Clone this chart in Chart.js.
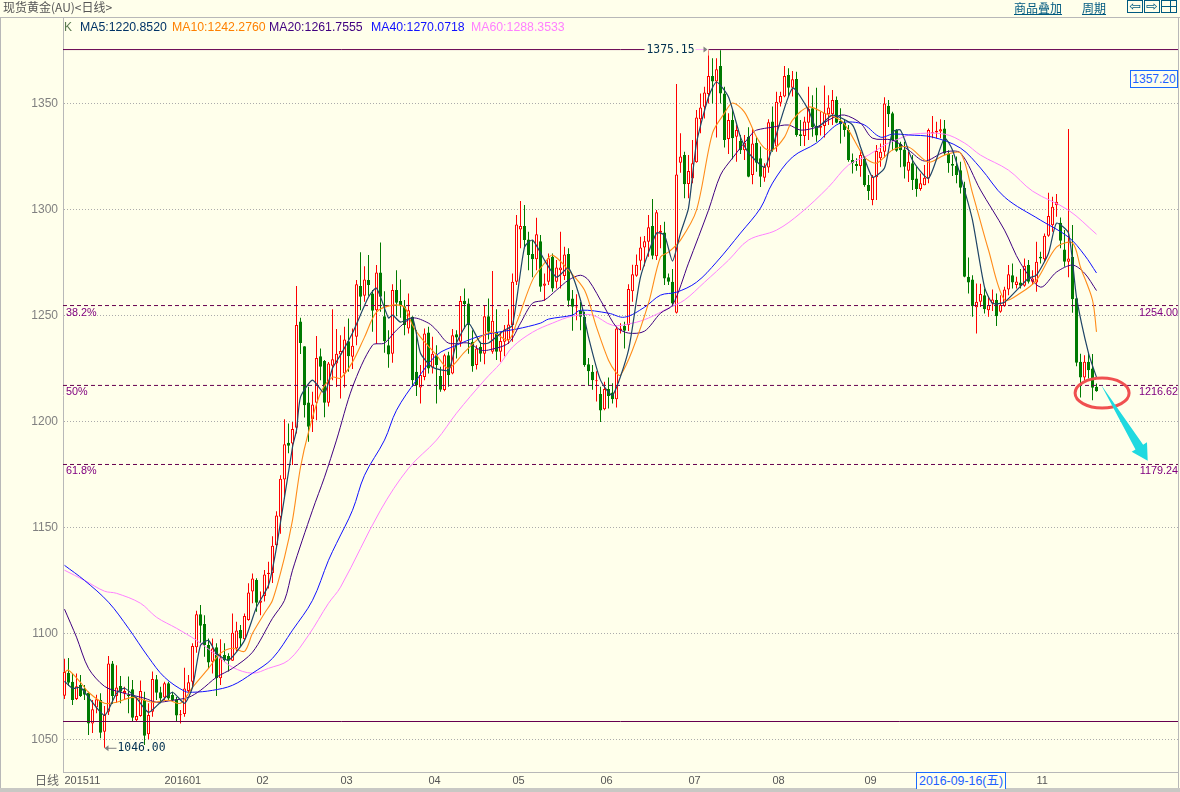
<!DOCTYPE html>
<html><head><meta charset="utf-8">
<script src="https://cdn.jsdelivr.net/npm/chart.js@4/dist/chart.umd.min.js"></script>
<style>
html,body{margin:0;padding:0;background:#FFFFEB;width:1180px;height:792px;overflow:hidden}
#wrap{position:relative;width:1180px;height:792px;font-family:"Liberation Sans",sans-serif}
canvas{position:absolute;left:0;top:0}
.t{position:absolute;white-space:nowrap;line-height:14px;font-size:12px}
.leg{font-size:12.3px}
.r{position:absolute;background:#B8B8B8}
.btn{position:absolute;top:0;width:14px;height:11px;border:1px solid #005A80;color:#005A80;font:14px/10px "DejaVu Sans";text-align:center;overflow:hidden}
</style></head><body><div id="wrap">
<canvas id="c" width="1180" height="792"></canvas>
<div class="r" style="left:0;top:17px;width:1180px;height:1px"></div>
<div class="r" style="left:0;top:18px;width:1px;height:770px"></div>
<div class="r" style="left:1178px;top:17px;width:1px;height:771px"></div>
<div class="r" style="left:0;top:788px;width:1180px;height:4px;background:#C8C8C4"></div>
<div class="t" style="left:3px;top:0;color:#555;font-family:'Noto Sans CJK SC';font-size:12px;line-height:14px">现货黄金(AU)&lt;日线&gt;</div>
<div class="t" style="left:64px;top:20px;color:#5a7a50">K</div>
<div class="t leg" style="left:80px;top:20px;color:#003366">MA5:1220.8520</div>
<div class="t leg" style="left:172px;top:20px;color:#FF8000">MA10:1242.2760</div>
<div class="t leg" style="left:269px;top:20px;color:#400080">MA20:1261.7555</div>
<div class="t leg" style="left:371px;top:20px;color:#1010FF">MA40:1270.0718</div>
<div class="t leg" style="left:471px;top:20px;color:#FF80FF">MA60:1288.3533</div>
<div class="t" style="left:1014px;top:1px;color:#005A80;text-decoration:underline;font-family:'Noto Sans CJK SC'">商品叠加</div>
<div class="t" style="left:1082px;top:1px;color:#005A80;text-decoration:underline;font-family:'Noto Sans CJK SC'">周期</div>
<div class="btn" style="left:1127px">⇦</div>
<div class="btn" style="left:1144px">⇨</div>
<div class="btn" style="left:1161px"><div style="position:absolute;left:8px;top:0;width:1px;height:11px;background:#005A80"></div><div style="position:absolute;left:0;top:5px;width:14px;height:1px;background:#005A80"></div></div>
<div class="t" style="left:1130px;top:70px;width:46px;height:16px;line-height:16px;border:1px solid #1A6AFF;color:#2060FF;text-align:center;background:#FFFFEB">1357.20</div>
<div class="t" style="left:35px;top:773px;color:#666;font-family:'Noto Sans CJK SC'">日线</div>
<div class="t" style="left:916px;top:772px;width:88px;height:16px;line-height:16px;border:1px solid #1A6AFF;border-bottom:0;color:#2060FF;text-align:center;background:#FFFFEB;font-size:12.4px;font-family:'Liberation Sans','Noto Sans CJK SC'">2016-09-16(五)</div>
</div>
<script>
// Daily candles (one group per 10 sessions)
const opens=[
1070.5,1081.4,1077.2,1069,1075.6,1074,1072,1057.5,1065,1068.6,
1053.6,1063,1085.8,1070.4,1075.2,1071.7,1070.9,1073.6,1059,1061,
1068.6,1052.4,1063,1078.3,1072.2,1069.7,1076.4,1070.9,1068.9,1061.3,
1062,1072.8,1077.2,1093.4,1109,1104.4,1094.5,1086.6,1093.4,1078.8,
1089.8,1089.3,1087.1,1092.9,1101.6,1097.2,1106.3,1119.7,1125.2,1114.5,
1117.6,1128,1128.5,1141.6,1155,1172.6,1190,1189.6,1197,1247.2,
1235.5,1209,1201.2,1208.8,1230.8,1228.5,1208.8,1226.3,1227.4,1231.6,
1222.6,1237.9,1230.5,1240,1263.9,1259.3,1266.7,1260.4,1252.5,1270.3,
1249.7,1236,1232,1262,1256.8,1254.4,1243.9,1249.4,1223.4,1216,
1221,1242,1225.5,1231.3,1221.4,1214.8,1231.3,1222.6,1241.2,1237.6,
1257,1255.7,1237.6,1226.6,1235.2,1232,1249.7,1232.9,1242.3,1232.9,
1237.6,1238.4,1245.5,1265.9,1290.6,1292.2,1285.9,1279,1276.6,1285.1,
1264,1265.9,1277.7,1265.9,1271.4,1268.6,1279,1258,1253.8,1252.2,
1249.4,1227,1223.4,1219,1212.9,1205.8,1215.3,1213.7,1210.5,1243,
1245,1245.5,1261.5,1268.8,1275.8,1282.1,1284.8,1292.2,1278,1289,
1289.2,1268,1265.9,1251.3,1322.1,1325.7,1312.1,1314.7,1322.3,1342.6,
1348.5,1354.5,1363,1360.4,1367.7,1354.8,1333.3,1342.3,1334.4,1332.3,
1328,1334.4,1316.3,1331.5,1324.2,1315,1319.9,1341.5,1329.7,1350.4,
1353.3,1363.5,1357.5,1361.6,1335.5,1334.7,1341,1347.8,1339.4,1338.6,
1339.4,1345,1345,1351.7,1341.8,1341,1337.6,1323.4,1321.5,1320.5,
1323.8,1311.6,1304.5,1315.2,1324.2,1327.3,1349,1345.4,1337.6,1331,
1328.4,1318.3,1321.8,1314.7,1309.7,1311.5,1314.7,1336,1336.4,1336.8,
1338.3,1326.5,1321.5,1320.5,1318.6,1310.3,1268.3,1267,1253.9,1256.5,
1259.6,1252.5,1255.7,1257.3,1251.8,1254.4,1262.3,1269,1264.4,1265.6,
1264,1273.8,1265.9,1265.6,1277.7,1276.5,1287.6,1292.6,1302,1293.8,
1281.2,1275.4,1277.7,1258.2,1228.2,1220.8,1228.2,1225,1216.4];
const highs=[
1088,1088.4,1081,1081,1080.3,1075.6,1072.5,1068.6,1071,1071.7,
1065.7,1089.3,1087,1085,1079.9,1074.8,1079.6,1078,1070,1077.7,
1072.5,1067,1082,1080.3,1074.8,1077.2,1077.2,1072.5,1070,1063.8,
1083.8,1080.3,1095.3,1110.7,1113.4,1108.6,1097.6,1097.6,1095.3,1097.2,
1095.3,1090.6,1109.4,1105.5,1103.9,1109.4,1123.6,1128.3,1126,1119.7,
1129.9,1133.8,1145.8,1157.6,1174.6,1201,1199,1199.8,1263.9,1249,
1235.5,1216.4,1214,1240.3,1234.4,1229,1228,1253,1243.6,1240.7,
1244.7,1248.6,1243.9,1266.7,1279.8,1273.3,1278.5,1262,1273.8,1284.5,
1261.5,1243,1264.7,1271.4,1267,1257.3,1260.4,1249.7,1243,1226.6,
1243.9,1244.7,1240,1236,1225.8,1232,1232.9,1243.6,1243,1259.2,
1262.8,1258,1243,1236,1237.6,1254.9,1258,1271,1252.9,1242.3,
1245.5,1252.9,1269.8,1297.4,1304,1302.1,1289.5,1285.6,1296.1,1288,
1269.8,1279.3,1279.3,1276.2,1289.5,1282.5,1281.7,1262,1260,1256.5,
1251.8,1230,1226.6,1223.7,1216.4,1218.7,1220.8,1218,1244.7,1246.3,
1247,1264.7,1274,1278.8,1287.2,1287.5,1297.4,1305,1299.8,1292.7,
1294.2,1269.8,1272,1359.3,1336,1327.3,1325.7,1332.8,1347,1354.8,
1358,1375.15,1371.4,1371.4,1375.15,1358,1345.4,1347,1339.9,1335.2,
1335.2,1338.8,1338.3,1334.4,1329.7,1321.8,1342.6,1348.6,1355.6,1355.6,
1367.7,1366.7,1365.4,1365,1342.3,1343.8,1358,1354,1357.5,1346.2,
1358.5,1354,1356.4,1353.3,1347.8,1342.3,1339.9,1326.5,1324.2,1328,
1325,1316.3,1316.3,1330.5,1331.2,1353,1351.7,1346.2,1337.9,1332,
1332,1327.3,1325.7,1320.2,1317,1321,1338.3,1344.1,1341.4,1342.6,
1342.3,1328,1325.7,1325,1322.6,1313.1,1277.4,1269,1265.1,1265,
1262.8,1258.8,1262.3,1260.4,1259.6,1263.6,1273.8,1274.6,1268.3,1272,
1276.9,1276.2,1271.4,1284.8,1280.1,1288.7,1307.9,1306,1307.3,1296.3,
1290.3,1338,1292.7,1258.5,1232,1231.3,1232,1231.8,1217.9];
const lows=[
1069,1075.2,1066.2,1068.5,1070,1068.6,1052,1053,1062.3,1050.5,
1046,1061.5,1066.7,1067.3,1067,1068.6,1062.3,1058.6,1058.3,1060.7,
1047.3,1050,1060.7,1068.6,1067,1068.6,1068.6,1067.8,1058.6,1057.5,
1060.7,1071.7,1074.8,1090.9,1095.3,1089,1083.2,1081,1070.4,1075.6,
1086.6,1082,1087,1091.4,1093.7,1096.9,1106,1114.2,1110.2,1108.6,
1115,1121.2,1123.8,1140.8,1147,1163.6,1185,1179.4,1194.3,1231.8,
1201.9,1190.4,1195,1200.6,1219.5,1202,1207,1219.5,1216.3,1210.8,
1216,1223.4,1224.7,1236,1252.5,1256.5,1259.3,1242.3,1236.5,1251.8,
1232.4,1225.3,1227.7,1249.7,1249,1240.7,1241.5,1216.4,1212,1208.5,
1219.5,1222.6,1222.6,1208.5,1214,1214.3,1216.4,1222.3,1229.7,1235.2,
1243.9,1232,1223.4,1224.5,1228.2,1227,1238.7,1232,1229,1228.2,
1230.8,1236.6,1237.6,1264.4,1281.7,1281.7,1271.4,1268,1271.4,1261.2,
1257,1264.4,1261.2,1262.8,1262.8,1266.7,1254.1,1242.8,1247.8,1243.1,
1225.8,1217.1,1215,1209.4,1199.7,1205.3,1206.1,1208.5,1206.6,1241.5,
1234.4,1242.7,1256.5,1268.3,1271.4,1273.3,1277.7,1276.6,1276.2,1281.7,
1264.4,1264.4,1254.1,1251,1317.4,1305.3,1305.3,1312.4,1322.1,1336,
1343,1350,1350,1334,1350,1329.3,1326.2,1323.7,1322.6,1326.2,
1323.4,1315.2,1312,1317.9,1310.7,1313.1,1317.4,1327.3,1327.3,1348.6,
1353,1353.3,1353.3,1334.4,1330,1330,1332.8,1334.4,1332,1334.9,
1334,1339.9,1339.9,1340.7,1331.2,1334.4,1322.6,1317,1318.3,1315.5,
1310.8,1304.5,1302,1304.5,1320.2,1324.6,1339,1328,1327.3,1320,
1314.7,1313,1309.2,1306.1,1308.9,1311.5,1312.4,1333.6,1333.6,1333.6,
1325.7,1317.4,1315.8,1312.4,1307.6,1268,1260.4,1249.4,1241.5,1254,
1251,1249.4,1252.1,1245,1251.3,1254.1,1259.6,1262.8,1262.8,1262.8,
1263.6,1265.1,1264.4,1261.2,1274.6,1275.4,1287.2,1289.5,1296.6,1281.7,
1273,1268,1251.3,1226,1211.3,1219.5,1220.3,1210,1214];
const closes=[
1081.8,1076.7,1068.6,1075,1070.4,1071,1057.5,1064.2,1068.9,1053.1,
1061.5,1085.8,1070.4,1074.5,1072.5,1072.8,1070.4,1060.2,1061,1072.8,
1051.7,1061.5,1078.5,1072,1069.3,1076.4,1069.3,1068.6,1061.2,1061.7,
1074,1076.9,1094,1109,1103.6,1094.5,1086.2,1092.9,1078.8,1088.2,
1087.4,1087.1,1100.3,1101.3,1097.6,1108.2,1119.3,1125.9,1114.5,1115.5,
1127.8,1128.6,1141.4,1155.6,1173,1189.3,1188.5,1196.4,1245.5,1237,
1207.7,1197.5,1208,1230,1225.8,1208.8,1227.4,1229.3,1232,1233.2,
1238.7,1230.8,1235.7,1264.7,1258.8,1267,1264.4,1252.2,1270.3,1258.8,
1237.9,1231.6,1262,1256,1254.9,1245.5,1252.5,1219.5,1217.1,1221.9,
1241.5,1225,1232,1226.6,1215,1231.3,1221.9,1240.7,1239.6,1256.8,
1255.4,1245.5,1226,1234.4,1232,1249.7,1242.3,1247.5,1232.9,1238,
1243.4,1245.8,1265.9,1293,1292.2,1285.6,1278.5,1276.6,1288.4,1263.6,
1265.1,1277,1262.8,1272.7,1272.7,1278.8,1257,1254.1,1254.1,1249.4,
1226.6,1223.7,1219.5,1219.5,1205.2,1215.3,1212,1210.5,1243.9,1243.9,
1242.8,1262.5,1269.5,1274,1282.1,1285.1,1291.6,1278.2,1298.7,1290,
1267.5,1265.9,1255.7,1316.6,1325,1311.9,1318.2,1321.8,1343.5,1348.2,
1355.3,1363,1360.4,1366.2,1354.8,1332.8,1342.3,1333.6,1337.6,1328,
1331.5,1315.5,1331.2,1322.1,1315.5,1320.2,1341.2,1328,1350.9,1353.6,
1363,1357.5,1361.5,1335.2,1334.7,1341.5,1347.4,1339,1334.9,1339.4,
1345.7,1348.2,1351.7,1341,1340.2,1337.6,1323.4,1321.8,1320.5,1325.7,
1311.6,1308.7,1315.5,1327.6,1327.3,1350,1345,1332.8,1327.8,1328,
1320.2,1322.6,1313.9,1309.7,1312.4,1315,1337.6,1336.4,1337.2,1337.9,
1326.5,1321.8,1320.7,1316.3,1310.3,1268.3,1265.6,1254.4,1256.5,1260.1,
1252.9,1254.9,1257.6,1249.7,1254.9,1262.3,1269.5,1265.6,1266,1264,
1273.5,1265.9,1267.5,1275.4,1276.9,1287.6,1297,1301.3,1303.7,1285.3,
1275.4,1276.9,1257.7,1227.7,1220.8,1228.2,1224.2,1215.9,1214.3];

// Moving averages at session numbers
const ma5Idx=[0,2,4,6,10,13,15,18,21,24,27,30,32,34,36,38,41,45,48,51,53,57,58,59,62,65,67,69,72,76,78,81,82,84,87,89,92,96,98,101,104,106,110,112,115,117,120,123,126,129,131,134,137,141,144,148,150,152,154,156,158,161,163,166,169,171,175,177,182,186,188,192,197,199,202,205,207,209,212,216,220,222,225,227,230,232,235,241,243,246,248,251,253,256,258];
const ma5=[1077.4,1074.1,1074.5,1069.8,1061.3,1071.7,1074.1,1069.4,1062.7,1067.5,1072.2,1067,1074.5,1094.4,1096.7,1090.6,1087.3,1096.7,1112.3,1122.7,1140.6,1187.9,1195.9,1211.5,1219.5,1213.3,1225.1,1231.3,1241.7,1258.7,1262.9,1248.8,1250.2,1246.9,1248.8,1232.2,1225.6,1224.2,1237,1246.4,1237,1237,1243.1,1245.4,1282.3,1285.6,1276.1,1268.1,1272.4,1257.3,1239.8,1219.5,1212.4,1233.7,1268.1,1288.9,1287.9,1275.7,1288.9,1300.7,1331.4,1353.1,1360.2,1353.1,1334.2,1326.7,1320,1329.5,1357.3,1347,1338.5,1344.6,1339.9,1329.5,1315.3,1319.6,1336.6,1337.5,1323.3,1314.8,1333.7,1328.1,1309.2,1295,1263.4,1255.8,1256.3,1267.6,1269,1279.4,1293.6,1288.9,1258.7,1232.2,1220.85];
const ma10Idx=[0,1,4,6,10,13,17,22,26,29,32,36,39,42,45,47,50,52,55,57,59,61,64,67,69,72,75,78,82,85,87,89,93,96,100,104,107,111,113,117,120,122,126,130,133,136,138,139,142,146,149,151,154,158,162,165,167,170,173,175,177,180,182,186,190,194,196,200,203,207,211,216,220,224,227,231,235,239,243,248,252,254,257,258];
const ma10=[1081.6,1082.6,1076.9,1072.2,1067,1067.5,1069.8,1067.5,1068.4,1067,1074.5,1083.5,1090.6,1093,1091.5,1100,1109.5,1115.6,1135.9,1153.4,1178.4,1194.9,1213.3,1220.9,1220.4,1228,1239.8,1251.6,1254.9,1253.9,1245.4,1239.8,1231.3,1225.1,1232.7,1239.8,1242.1,1238.4,1246.4,1266.7,1274.7,1278.5,1271.4,1262,1244.5,1228.9,1222.8,1221.8,1233.7,1255.8,1277.6,1279.9,1285.6,1299.7,1336.1,1345.5,1350.3,1346,1334.2,1329,1328.1,1334.2,1342.2,1348.4,1345.5,1342.2,1337.5,1324.8,1321.9,1328.1,1329.5,1322.4,1325.7,1326.7,1307.8,1280.9,1257.3,1260.6,1266.7,1282.3,1284.2,1272.8,1257.3,1242.28];
const ma20Idx=[0,3,6,10,14,20,23,27,31,34,38,42,47,52,55,57,62,65,68,72,77,80,83,87,91,93,96,101,104,106,111,114,117,120,123,126,129,131,135,138,141,145,149,152,156,161,164,167,172,173,177,181,184,188,192,195,199,202,207,211,215,220,224,229,235,239,244,248,252,255,258];
const ma20=[1111.4,1098.2,1083.5,1075,1072.2,1069.4,1067.5,1068.4,1069.8,1073.1,1079.3,1083.5,1091.1,1107.1,1115.6,1129.8,1158.1,1173.7,1191.2,1216.2,1236,1237,1243.1,1248.8,1246.4,1243.1,1237,1237,1233.7,1233.7,1237,1246.4,1255.8,1257.3,1262,1266.7,1269,1266.7,1253.9,1244.5,1241.7,1242.6,1251.1,1254.9,1274.7,1299.7,1316.3,1324.3,1336.1,1337.5,1338.9,1339.9,1337.5,1338.9,1343.2,1344.6,1340.8,1333.7,1332.8,1328.1,1322.9,1327.1,1326.7,1309.2,1290.3,1274.7,1263.4,1270.5,1273.8,1270,1261.76];
const ma40Idx=[0,5,11,16,21,25,30,32,37,42,47,52,57,62,66,68,72,75,80,83,88,93,98,103,107,113,119,121,127,129,136,140,145,149,153,158,163,169,174,177,182,188,192,194,197,200,204,207,211,217,224,229,235,244,251,255,258];
const ma40=[1132.1,1125,1114.7,1102.4,1088.7,1079.3,1072.7,1072.2,1073.1,1075.5,1081.2,1088.2,1101.5,1115.6,1134.5,1142.5,1158.1,1174.6,1191.2,1205.3,1219.5,1231.3,1236,1239.8,1241.7,1243.6,1246.4,1248.3,1250.2,1252.5,1251.1,1249.2,1253.9,1259.6,1261,1265.7,1275.2,1288.9,1300.7,1312.5,1324.8,1331.4,1338.5,1340.8,1341.3,1339.9,1334.2,1335.6,1335.2,1334.2,1329,1319.6,1305.9,1295,1287,1278.5,1270.07];
const ma60Idx=[0,5,10,13,19,23,28,33,38,42,47,51,56,61,66,69,79,86,93,98,105,109,112,117,122,127,132,137,142,146,151,155,160,166,171,178,184,191,196,201,205,209,212,220,225,229,236,242,251,258];
const ma60=[1129.8,1125,1119.9,1118.9,1114.2,1107.6,1102.4,1096.7,1089.7,1084,1081.2,1083.5,1087.3,1099.1,1114.2,1121.8,1158.1,1177.9,1191.2,1203.9,1219.5,1227.5,1235.1,1242.1,1246.4,1249.7,1250.2,1245.4,1246.4,1248.8,1253.5,1257.3,1265.7,1276.1,1285.6,1290.3,1298.3,1310.6,1321,1325.7,1330.4,1333.7,1335.6,1335.6,1331.4,1325.7,1318.6,1308.7,1299.7,1288.35];

// Axis and reference levels
const yTicks=[1050,1100,1150,1200,1250,1300,1350];
const monthTicks=[0,25,48,69,91,112,134,156,177,200,243];
const monthLabels=['201511','201601','02','03','04','05','06','07','08','09','11'];
const solidLevels=[1375.5,1058.4];
const fibLevels=[1254.7,1217.0,1179.7];
const fibPercent=['38.2%','50%','61.8%'];
const fibPrice=['1254.00','1216.62','1179.24'];
const extremes={high:'1375.15',highIdx:161,low:'1046.00',lowIdx:10};

const RED='#FF0000',GREEN='#007A00',BG='#FFFFEB',PURPLE='#66004F';
const xMin=-0.375,xMax=278.375;
const wickData=highs.map((h,i)=>({x:i,y:[lows[i],h]}));
const bodyData=opens.map((o,i)=>({x:i,y:[o,closes[i]]}));
const isUp=i=>closes[i]>=opens[i];
const lineSet=(idx,vals,color,w,order,tension)=>({type:'line',data:idx.map((x,i)=>({x,y:vals[i]})),borderColor:color,borderWidth:w,pointRadius:0,tension,order,fill:false});
const levelSet=(v,dash)=>({type:'line',data:[{x:xMin,y:v},{x:xMax,y:v}],borderColor:PURPLE,borderWidth:1,borderDash:dash,pointRadius:0,order:8,fill:false});

const overlay={id:'overlay',afterDatasetsDraw(ch){
  const c=ch.ctx,X=ch.scales.x,Y=ch.scales.y;
  c.save();
  c.textBaseline='middle';
  // fibonacci labels
  c.fillStyle='#800080';c.font='10.8px "Liberation Sans"';
  fibLevels.forEach((v,i)=>{
    const y=Y.getPixelForValue(v)+7;
    c.textAlign='left';c.fillText(fibPercent[i],66,y);
    c.textAlign='right';c.fillText(fibPrice[i],1178,y);
  });
  // high marker
  const hx=X.getPixelForValue(extremes.highIdx),hy=Y.getPixelForValue(solidLevels[0]);
  c.fillStyle=BG;c.fillRect(hx-64,hy-6,64,12);
  c.strokeStyle='#FFB0FF';c.lineWidth=1;c.beginPath();c.moveTo(hx-13,hy);c.lineTo(hx-2,hy);c.stroke();
  c.fillStyle='#808080';c.beginPath();c.moveTo(hx-1,hy);c.lineTo(hx-5,hy-3);c.lineTo(hx-5,hy+3);c.closePath();c.fill();
  c.fillStyle='#003050';c.font='11.4px "DejaVu Sans Mono"';c.textAlign='right';
  c.fillText(extremes.high,hx-14,hy);
  // low marker
  const lx=X.getPixelForValue(extremes.lowIdx),ly=Y.getPixelForValue(1046)+0.5;
  c.strokeStyle='#808080';c.beginPath();c.moveTo(lx+1,ly);c.lineTo(lx+12,ly);c.stroke();
  c.fillStyle='#808080';c.beginPath();c.moveTo(lx,ly);c.lineTo(lx+4,ly-3);c.lineTo(lx+4,ly+3);c.closePath();c.fill();
  c.fillStyle='#003050';c.textAlign='left';c.fillText(extremes.low,lx+13,ly);
  // red ellipse around the last sessions
  c.strokeStyle='#F05050';c.lineWidth=3;c.beginPath();
  c.ellipse(X.getPixelForValue(259.4),Y.getPixelForValue(1213.4),27,15,0,0,Math.PI*2);c.stroke();
  // cyan arrow
  const s={x:X.getPixelForValue(259.1),y:Y.getPixelForValue(1217.4)},t={x:X.getPixelForValue(270.8),y:Y.getPixelForValue(1181.5)};
  const L=Math.hypot(t.x-s.x,t.y-s.y),dx=(t.x-s.x)/L,dy=(t.y-s.y)/L,nx=-dy,ny=dx,ne={x:t.x-dx*16,y:t.y-dy*16};
  c.fillStyle='#1FD9E0';c.beginPath();
  c.moveTo(s.x,s.y);
  c.lineTo(ne.x+nx*4.5,ne.y+ny*4.5);c.lineTo(ne.x+nx*9,ne.y+ny*9);
  c.lineTo(t.x,t.y);
  c.lineTo(ne.x-nx*9,ne.y-ny*9);c.lineTo(ne.x-nx*4.5,ne.y-ny*4.5);
  c.closePath();c.fill();
  c.restore();
}};

new Chart(document.getElementById('c'),{
  data:{datasets:[
    lineSet(ma60Idx,ma60,'#FF80FF',1,5,0.35),
    lineSet(ma40Idx,ma40,'#1010FF',1,4,0.35),
    lineSet(ma20Idx,ma20,'#400080',1,3,0.3),
    lineSet(ma10Idx,ma10,'#FF8C1A',1.1,2,0.3),
    lineSet(ma5Idx,ma5,'#1F4466',1.2,1,0.2),
    {type:'bar',data:bodyData,grouped:false,barThickness:3,minBarLength:1,borderWidth:1,borderSkipped:false,inflateAmount:0,
      backgroundColor:x=>isUp(x.dataIndex)?BG:GREEN,borderColor:x=>isUp(x.dataIndex)?RED:GREEN,order:10},
    {type:'bar',data:wickData,grouped:false,barThickness:1,borderWidth:0,inflateAmount:0,
      backgroundColor:x=>isUp(x.dataIndex)?RED:GREEN,order:11},
    levelSet(solidLevels[0],[]),levelSet(solidLevels[1],[]),
    levelSet(fibLevels[0],[4,3]),levelSet(fibLevels[1],[4,3]),levelSet(fibLevels[2],[4,3])
  ]},
  options:{
    responsive:false,animation:false,devicePixelRatio:1,
    layout:{padding:{top:18,right:2,left:0,bottom:0}},
    plugins:{legend:{display:false},tooltip:{enabled:false}},
    scales:{
      x:{type:'linear',offset:false,min:xMin,max:xMax,
        afterBuildTicks:s=>{s.ticks=monthTicks.map(v=>({value:v}));},
        afterFit:s=>{s.height=20;},
        grid:{display:false,drawTicks:false,tickLength:0},border:{display:true,color:'#B8B8B8'},
        ticks:{autoSkip:false,maxRotation:0,align:'start',padding:2,color:'#555',font:{family:'Liberation Sans',size:11},
          callback:v=>{const k=monthTicks.indexOf(v);return k<0?'':monthLabels[k];}}},
      y:{type:'linear',min:1034.57,max:1390.4,
        afterBuildTicks:s=>{s.ticks=yTicks.map(v=>({value:v}));},
        afterFit:s=>{s.width=63;},
        grid:{color:'#ABABAB',lineWidth:1,tickLength:0,drawTicks:false},
        border:{color:'#B8B8B8',dash:[1,2]},
        ticks:{padding:5,color:'#808080',font:{family:'Liberation Sans',size:12},callback:v=>String(v)}}
    }
  },
  plugins:[overlay]
});
</script></body></html>
